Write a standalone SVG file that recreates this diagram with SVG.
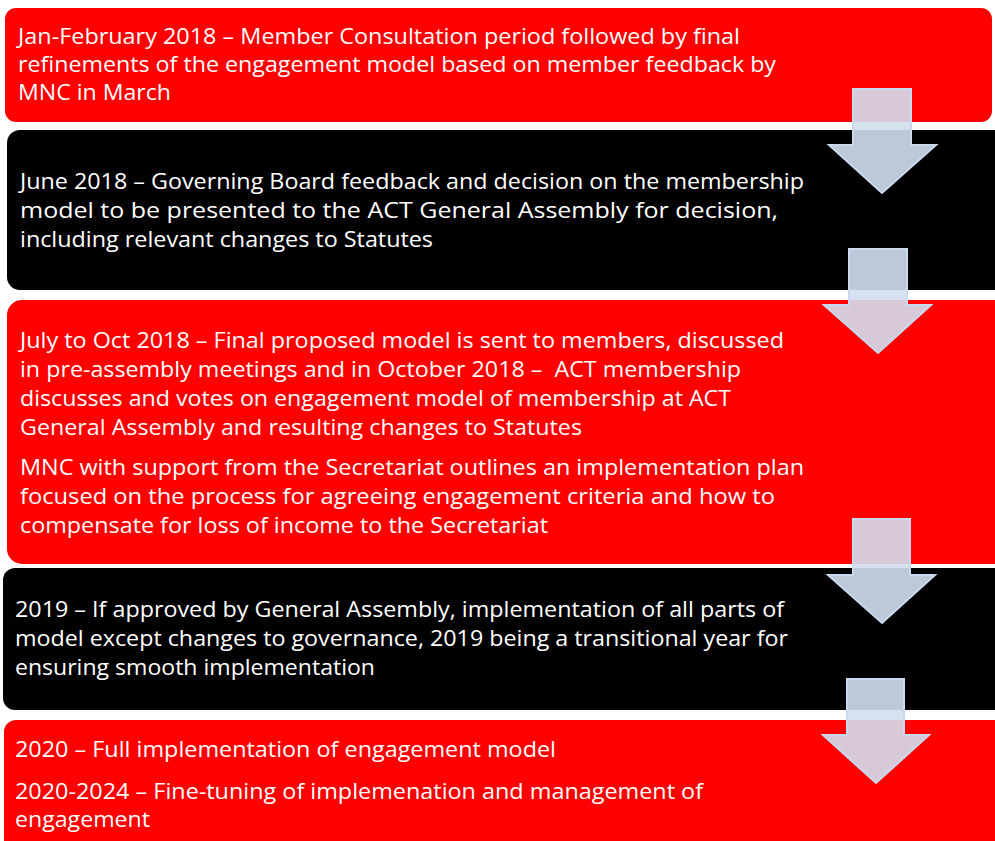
<svg xmlns="http://www.w3.org/2000/svg" width="995" height="841" viewBox="0 0 995 841">
  <style>
    .red { fill: #ff0000; }
    .black { fill: #000000; }
    .t { fill: #ffffff; font-family: "Open Sans", "Liberation Sans", sans-serif; font-size: 22px; }
    .arrow { fill: #d3dff0; fill-opacity: 0.9; stroke: #c9d9ee; stroke-width: 2; stroke-linejoin: miter; }
  </style>

  <!-- Timeline stages -->
  <g id="stage-2018-jan-feb">
    <rect class="red" x="5" y="8" width="987" height="114" rx="11"/>
    <text class="t" x="18" y="44" textLength="722" lengthAdjust="spacingAndGlyphs">Jan-February 2018 – Member Consultation period followed by final</text>
    <text class="t" x="18" y="72" textLength="758" lengthAdjust="spacingAndGlyphs">refinements of the engagement model based on member feedback by</text>
    <text class="t" x="18" y="100" textLength="153" lengthAdjust="spacingAndGlyphs">MNC in March</text>
  </g>

  <g id="stage-2018-june">
    <rect class="black" x="7" y="130" width="1003" height="160" rx="13"/>
    <text class="t" x="20" y="189" textLength="784" lengthAdjust="spacingAndGlyphs">June 2018 – Governing Board feedback and decision on the membership</text>
    <text class="t" x="20" y="218" textLength="758" lengthAdjust="spacingAndGlyphs">model to be presented to the ACT General Assembly for decision,</text>
    <text class="t" x="20" y="247" textLength="413" lengthAdjust="spacingAndGlyphs">including relevant changes to Statutes</text>
  </g>

  <g id="stage-2018-jul-oct">
    <rect class="red" x="7" y="300" width="1003" height="264" rx="15"/>
    <text class="t" x="20" y="348" textLength="764" lengthAdjust="spacingAndGlyphs">July to Oct 2018 – Final proposed model is sent to members, discussed</text>
    <text class="t" x="20" y="377" textLength="721" lengthAdjust="spacingAndGlyphs" xml:space="preserve">in pre-assembly meetings and in October 2018 –  ACT membership</text>
    <text class="t" x="20" y="406" textLength="711" lengthAdjust="spacingAndGlyphs">discusses and votes on engagement model of membership at ACT</text>
    <text class="t" x="20" y="435" textLength="562" lengthAdjust="spacingAndGlyphs">General Assembly and resulting changes to Statutes</text>
    <text class="t" x="20" y="475" textLength="784" lengthAdjust="spacingAndGlyphs">MNC with support from the Secretariat outlines an implementation plan</text>
    <text class="t" x="20" y="504" textLength="755" lengthAdjust="spacingAndGlyphs">focused on the process for agreeing engagement criteria and how to</text>
    <text class="t" x="20" y="533" textLength="528" lengthAdjust="spacingAndGlyphs">compensate for loss of income to the Secretariat</text>
  </g>

  <g id="stage-2019">
    <rect class="black" x="3" y="568" width="1007" height="142" rx="12"/>
    <text class="t" x="15" y="617" textLength="769" lengthAdjust="spacingAndGlyphs">2019 – If approved by General Assembly, implementation of all parts of</text>
    <text class="t" x="15" y="646" textLength="773" lengthAdjust="spacingAndGlyphs">model except changes to governance, 2019 being a transitional year for</text>
    <text class="t" x="15" y="675" textLength="360" lengthAdjust="spacingAndGlyphs">ensuring smooth implementation</text>
  </g>

  <g id="stage-2020">
    <rect class="red" x="4" y="720" width="1006" height="140" rx="12"/>
    <text class="t" x="15" y="757" textLength="541" lengthAdjust="spacingAndGlyphs">2020 – Full implementation of engagement model</text>
    <text class="t" x="15" y="799" textLength="688" lengthAdjust="spacingAndGlyphs">2020-2024 – Fine-tuning of implemenation and management of</text>
    <text class="t" x="15" y="827" textLength="135" lengthAdjust="spacingAndGlyphs">engagement</text>
  </g>

  <!-- Down arrows between stages -->
  <g id="connectors">
    <polygon class="arrow" points="853,89 911,89 911,145 936,145 882,193 829,145 853,145"/>
    <polygon class="arrow" points="849,249 907,249 907,305 931,305 878,353 824,305 849,305"/>
    <polygon class="arrow" points="853,519 910,519 910,575 935,575 882,623 828,575 853,575"/>
    <polygon class="arrow" points="847,679 904,679 904,735 929,735 876,783 823,735 847,735"/>
  </g>
</svg>
